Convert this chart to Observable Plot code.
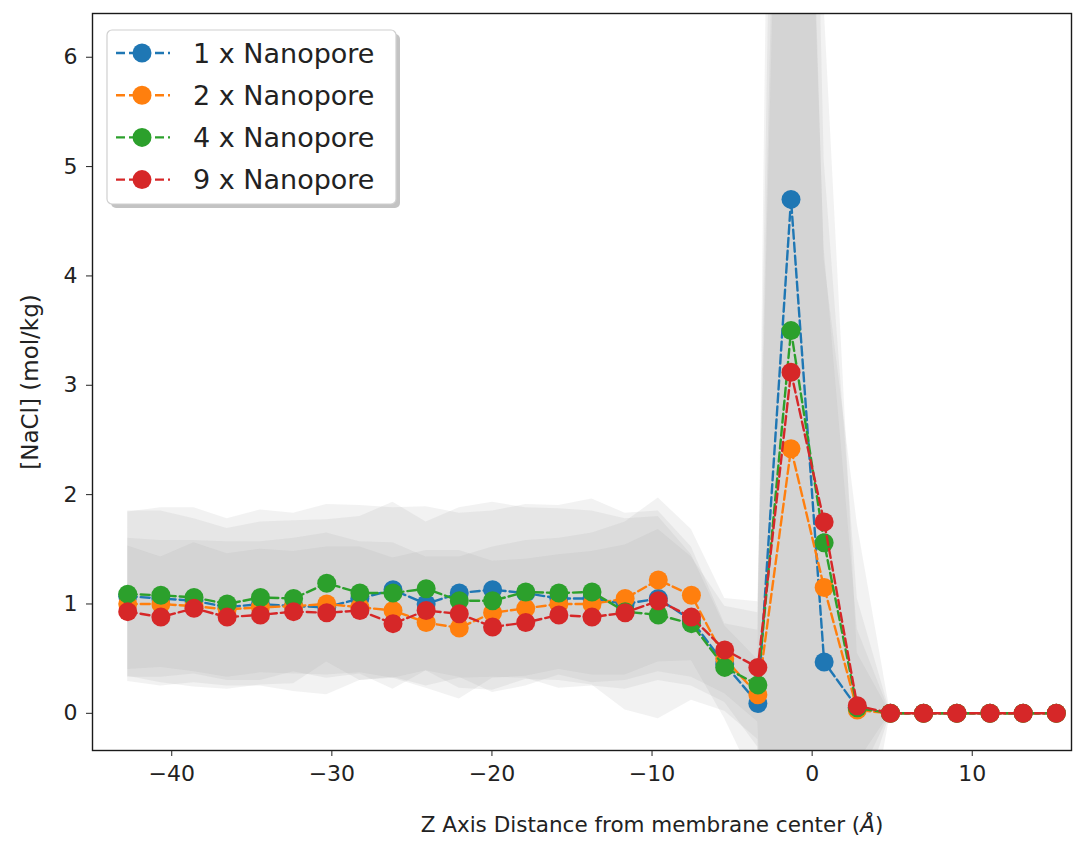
<!DOCTYPE html>
<html><head><meta charset="utf-8">
<script src="https://cdn.jsdelivr.net/npm/d3@7"></script>
<script src="https://cdn.jsdelivr.net/npm/@observablehq/plot@0.6"></script>
<style>body{margin:0;background:#fff;} #chart{width:1082px;height:847px;}</style>
</head><body><div id="chart"></div>
<script>
// ---- data ----
const zAxis = [-42.75, -40.68, -38.61, -36.54, -34.46, -32.39, -30.32, -28.25, -26.18, -24.11,
  -22.04, -19.96, -17.89, -15.82, -13.75, -11.68, -9.61, -7.54, -5.46, -3.39,
  -1.32, 0.75, 2.82, 4.89, 6.96, 9.04, 11.11, 13.18, 15.25];
const seriesNames = ["1 x Nanopore", "2 x Nanopore", "4 x Nanopore", "9 x Nanopore"];
const seriesColors = ["#1f77b4", "#ff7f0e", "#2ca02c", "#d62728"];
const nacl1x = [1.07, 1.05, 1.03, 0.97, 1.00, 0.98, 0.97, 1.05, 1.13, 1.00, 1.10, 1.13, 1.10, 1.05, 1.05, 1.00, 1.05, 0.85, 0.45, 0.09, 4.70, 0.47, 0.05, 0, 0, 0, 0, 0, 0];
const nacl2x = [1.00, 1.00, 0.98, 0.95, 0.97, 0.98, 1.00, 0.97, 0.94, 0.83, 0.78, 0.92, 0.96, 1.00, 1.00, 1.05, 1.22, 1.08, 0.50, 0.17, 2.42, 1.15, 0.03, 0, 0, 0, 0, 0, 0];
const nacl4x = [1.09, 1.08, 1.06, 1.00, 1.06, 1.05, 1.19, 1.10, 1.10, 1.14, 1.03, 1.03, 1.11, 1.10, 1.11, 0.93, 0.90, 0.82, 0.42, 0.26, 3.50, 1.56, 0.05, 0, 0, 0, 0, 0, 0];
const nacl9x = [0.93, 0.88, 0.96, 0.88, 0.90, 0.93, 0.92, 0.94, 0.82, 0.94, 0.91, 0.79, 0.83, 0.90, 0.88, 0.92, 1.03, 0.88, 0.58, 0.42, 3.12, 1.75, 0.07, 0, 0, 0, 0, 0, 0];
const std1x = [0.78, 0.80, 0.75, 0.72, 0.75, 0.78, 0.80, 0.75, 0.80, 0.75, 0.78, 0.80, 0.78, 0.82, 0.80, 0.78, 0.75, 0.60, 0.35, 0.40, 20, 6, 0.5, 0, 0, 0, 0, 0, 0];
const std2x = [0.60, 0.58, 0.60, 0.62, 0.60, 0.62, 0.65, 0.60, 0.62, 0.60, 0.65, 0.60, 0.62, 0.60, 0.65, 0.70, 0.75, 0.60, 0.55, 0.85, 12, 3, 1.7, 0, 0, 0, 0, 0, 0];
const std4x = [0.75, 0.80, 0.82, 0.78, 0.80, 0.78, 0.72, 0.80, 0.78, 0.75, 0.80, 0.82, 0.80, 0.80, 0.85, 0.90, 0.95, 0.70, 0.40, 0.50, 15, 3.5, 1.0, 0, 0, 0, 0, 0, 0];
const std9x = [0.60, 0.55, 0.60, 0.58, 0.60, 0.55, 0.60, 0.58, 0.60, 0.55, 0.58, 0.60, 0.58, 0.55, 0.60, 0.62, 0.65, 0.55, 0.40, 0.50, 10, 2.5, 0.7, 0, 0, 0, 0, 0, 0];
const xTicks = [-40, -30, -20, -10, 0, 10];
const yTicks = [0, 1, 2, 3, 4, 5, 6];
const xLabel = "Z Axis Distance from membrane center (Å)";
const yLabel = "[NaCl] (mol/kg)";

// ---- build table ----
const means = [nacl1x, nacl2x, nacl4x, nacl9x];
const stds = [std1x, std2x, std4x, std9x];
const rows = [];
seriesNames.forEach((name, k) => zAxis.forEach((z, i) => rows.push({
  series: name, z, v: means[k][i], lo: means[k][i] - stds[k][i], hi: means[k][i] + stds[k][i]
})));

const FONT = "DejaVu Sans, sans-serif";
const TXT = "#222";
const marks = [];
seriesNames.forEach(name => {
  marks.push(Plot.areaY(rows.filter(d => d.series === name), {
    x: "z", y1: "lo", y2: "hi", fill: "#a0a0a0", fillOpacity: 0.14, clip: true
  }));
});
seriesNames.forEach((name, k) => {
  const d = rows.filter(r => r.series === name);
  marks.push(Plot.line(d, {x: "z", y: "v", stroke: seriesColors[k], strokeWidth: 2.4, strokeDasharray: "9,4", clip: true}));
  marks.push(Plot.dot(d, {x: "z", y: "v", r: 9.5, fill: seriesColors[k], stroke: "none", clip: true}));
});
marks.push(Plot.frame({stroke: "#1a1a1a", strokeWidth: 1.4}));
marks.push(Plot.axisX({ticks: xTicks, tickSize: 6, tickPadding: 9, fontSize: 22, label: null, color: TXT, tickFormat: d => d3.format("d")(d)}));
marks.push(Plot.axisY({ticks: yTicks, tickSize: 6, tickPadding: 9, fontSize: 22, label: null, color: TXT, tickFormat: d => d3.format("d")(d)}));
marks.push(Plot.text([xLabel], {frameAnchor: "bottom", dx: 70, dy: 81, fontSize: 21.5, fill: TXT}));
marks.push(Plot.text([yLabel], {frameAnchor: "left", textAnchor: "middle", dx: -62, rotate: -90, fontSize: 23, fill: TXT}));

const chart = Plot.plot({
  width: 1082, height: 847,
  marginLeft: 92, marginRight: 11, marginTop: 13, marginBottom: 97,
  style: {fontFamily: FONT, background: "#fff", overflow: "visible"},
  x: {domain: [-44.95, 16.2], ticks: xTicks},
  y: {domain: [-0.34, 6.4], ticks: yTicks},
  marks
});
document.getElementById("chart").appendChild(chart);

// italic Å as in matplotlib mathtext
d3.select(chart).selectAll("text").filter(function() { return this.textContent === xLabel; }).each(function() {
  const t = d3.select(this);
  t.text(null);
  t.append("tspan").text("Z Axis Distance from membrane center (");
  t.append("tspan").attr("font-style", "italic").text("Å");
  t.append("tspan").text(")");
});

// ---- legend (inside the plot, upper left) ----
const svg = d3.select(chart);
const lg = svg.append("g").attr("font-family", FONT).attr("text-anchor", "start");
const bx = 107, by = 30, bw = 289, bh = 174;
lg.append("rect").attr("x", bx + 4).attr("y", by + 4).attr("width", bw).attr("height", bh).attr("rx", 5)
  .attr("fill", "#888").attr("fill-opacity", 0.5);
lg.append("rect").attr("x", bx).attr("y", by).attr("width", bw).attr("height", bh).attr("rx", 5)
  .attr("fill", "#fff").attr("stroke", "#d0d0d0").attr("stroke-width", 1.2);
seriesNames.forEach((name, k) => {
  const cy = 53 + k * 42.2;
  lg.append("line").attr("x1", 116).attr("x2", 170).attr("y1", cy).attr("y2", cy)
    .attr("stroke", seriesColors[k]).attr("stroke-width", 2.4).attr("stroke-dasharray", "9,4");
  lg.append("circle").attr("cx", 142).attr("cy", cy).attr("r", 9.5).attr("fill", seriesColors[k]);
  lg.append("text").attr("x", 193).attr("y", cy).attr("dy", "0.36em").attr("font-size", 27)
    .attr("fill", TXT).attr("text-anchor", "start").text(name);
});
</script>
</body></html>
